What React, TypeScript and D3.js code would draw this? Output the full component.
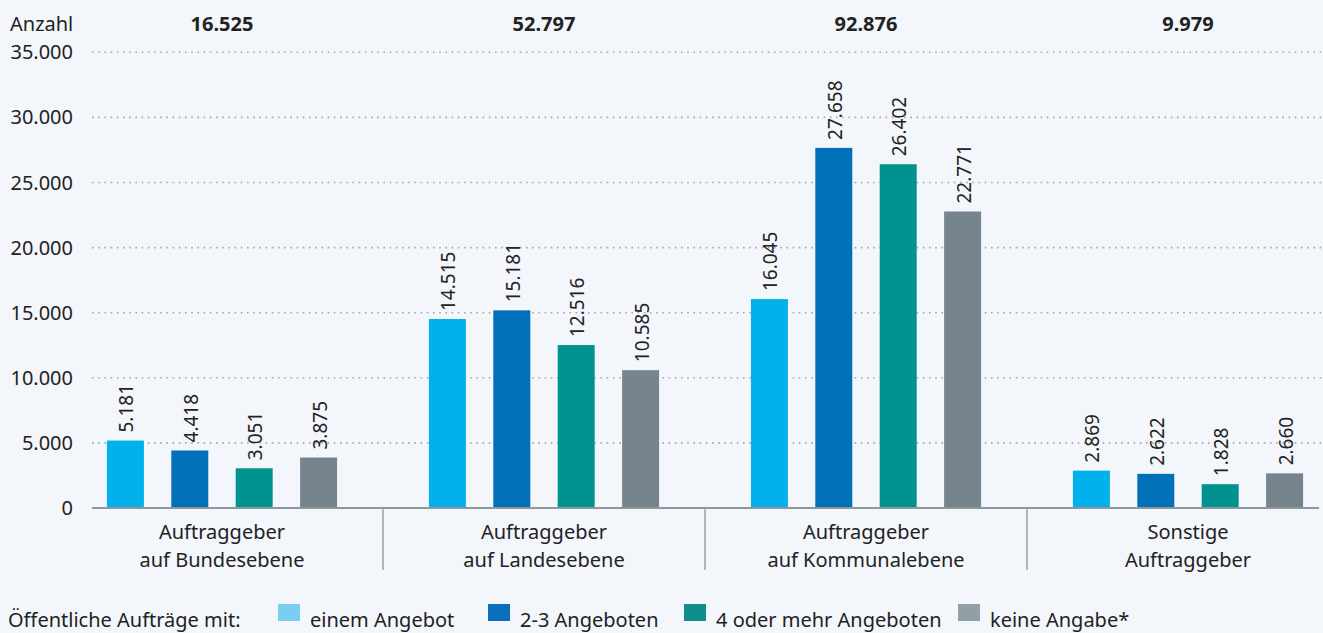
import React from 'react'
import * as d3 from 'd3'

const categories = [
  ['Auftraggeber', 'auf Bundesebene'],
  ['Auftraggeber', 'auf Landesebene'],
  ['Auftraggeber', 'auf Kommunalebene'],
  ['Sonstige', 'Auftraggeber']
]
const totals = [16525, 52797, 92876, 9979]
const seriesNames = ['einem Angebot', '2-3 Angeboten', '4 oder mehr Angeboten', 'keine Angabe*']
const einemAngebot = [5181, 14515, 16045, 2869]
const zweiDreiAngebote = [4418, 15181, 27658, 2622]
const vierOderMehr = [3051, 12516, 26402, 1828]
const keineAngabe = [3875, 10585, 22771, 2660]
const yTicks = [0, 5000, 10000, 15000, 20000, 25000, 30000, 35000]

const barColors = ['#00b1eb', '#0070b8', '#00928f', '#76858d']
const legendColors = ['#7ccdf2', '#0a70bb', '#0f8e8b', '#939fa6']

const W = 1323
const H = 633
const FONT = '"Noto Sans", "Open Sans", sans-serif'

const locale = d3.formatLocale({ decimal: ',', thousands: '.', grouping: [3], currency: ['', '€'] })
const fmt = locale.format(',d')

export default function App () {
  const values = [einemAngebot, zweiDreiAngebote, vierOderMehr, keineAngabe]
  const groupIdx = categories.map((d, i) => i)

  const x = d3.scaleBand<number>().domain(groupIdx).range([61, 1349]).padding(0)
  const xInner = d3.scaleBand<number>()
    .domain(d3.range(seriesNames.length))
    .range([0, x.bandwidth()])
    .paddingInner(0.426)
    .paddingOuter(0.713)
  const y = d3.scaleLinear().domain([0, 35000]).range([508, 52.3])

  // legend layout (x of swatch, x of text)
  const legendPos = [278, 488, 684, 958]

  return (
    <div style={{ position: 'absolute', left: 0, top: 0 }}>
      <svg width={W} height={H} style={{ display: 'block', background: '#f3f6fb', fontFamily: FONT }}>
        {/* gridlines */}
        {yTicks.filter(t => t > 0).map(t => (
          <line key={t} x1={92} x2={W} y1={y(t)} y2={y(t)}
            stroke='#a3a9ae' strokeWidth={1.6} strokeDasharray='1.6,4.6' />
        ))}
        {/* y labels */}
        {yTicks.map(t => (
          <text key={'l' + t} x={73} y={y(t) + 7} textAnchor='end' fontSize={20} fill='#222'>{fmt(t)}</text>
        ))}
        <text x={10} y={31} fontSize={20} fill='#222'>Anzahl</text>
        {totals.map((t, i) => (
          <text key={'t' + i} x={x(i)! + x.bandwidth() / 2} y={31} textAnchor='middle'
            fontSize={20} fontWeight='bold' fill='#222'>{fmt(t)}</text>
        ))}

        {/* bars */}
        {groupIdx.map(g => (
          <g key={'g' + g} transform={`translate(${x(g)},0)`}>
            {values.map((s, si) => {
              const bx = xInner(si)!
              const bw = xInner.bandwidth()
              const v = s[g]
              return (
                <g key={si}>
                  <rect x={bx} y={y(v)} width={bw} height={y(0) - y(v)} fill={barColors[si]} />
                  <text transform={`translate(${bx + bw / 2 + 1},${y(v) - 8}) rotate(-90)`}
                    dominantBaseline='central' fontSize={19} fill='#222'>{fmt(v)}</text>
                </g>
              )
            })}
          </g>
        ))}

        {/* axis */}
        <line x1={92} x2={1319} y1={y(0)} y2={y(0)} stroke='#8e979c' strokeWidth={2} />
        {groupIdx.slice(1).map(g => (
          <line key={'s' + g} x1={x(g)} x2={x(g)} y1={y(0)} y2={570} stroke='#9aa2a7' strokeWidth={1.5} />
        ))}
        {categories.map((c, i) => (
          <text key={'c' + i} textAnchor='middle' fontSize={20} fill='#222'>
            <tspan x={x(i)! + x.bandwidth() / 2} y={539}>{c[0]}</tspan>
            <tspan x={x(i)! + x.bandwidth() / 2} y={567}>{c[1]}</tspan>
          </text>
        ))}

        {/* legend */}
        <text x={8} y={627} fontSize={20} fill='#222'>Öffentliche Aufträge mit:</text>
        {seriesNames.map((n, i) => (
          <g key={'lg' + i}>
            <rect x={legendPos[i]} y={604} width={22} height={17} fill={legendColors[i]} />
            <text x={legendPos[i] + 32} y={627} fontSize={20} fill='#222'>{n}</text>
          </g>
        ))}
      </svg>
    </div>
  )
}
